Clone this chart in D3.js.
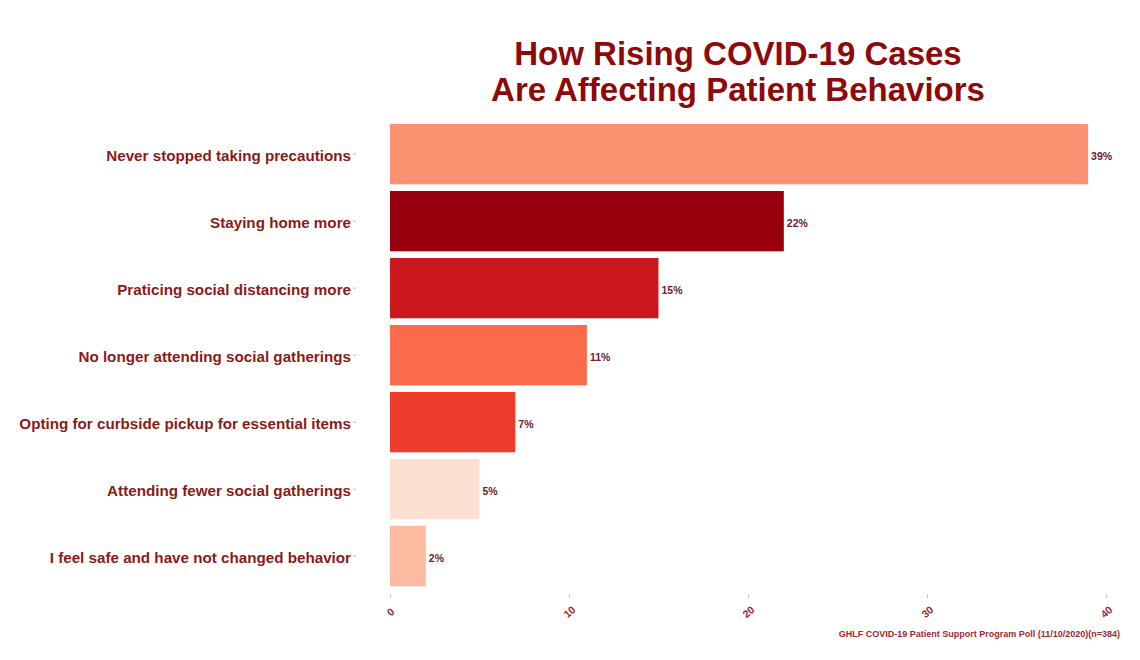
<!DOCTYPE html>
<html>
<head>
<meta charset="utf-8">
<script src="https://cdn.jsdelivr.net/npm/d3@7"></script>
<style>
  body { margin: 0; background: #fff; }
  svg { display: block; font-family: "Liberation Sans", Arial, sans-serif; }
</style>
</head>
<body>
<svg id="chart" width="1140" height="660"></svg>
<script>
const categories = [
  "Never stopped taking precautions",
  "Staying home more",
  "Praticing social distancing more",
  "No longer attending social gatherings",
  "Opting for curbside pickup for essential items",
  "Attending fewer social gatherings",
  "I feel safe and have not changed behavior"
];
const values = [39, 22, 15, 11, 7, 5, 2];
const barColors = ["#FC9272", "#99000D", "#CB181D", "#FB6A4A", "#EF3B2C", "#FEE0D2", "#FCBBA1"];
const xTicks = [0, 10, 20, 30, 40];
const titleLines = ["How Rising COVID-19 Cases", "Are Affecting Patient Behaviors"];
const caption = "GHLF COVID-19 Patient Support Program Poll (11/10/2020)(n=384)";

const svg = d3.select("#chart");
const textColor = "#8B1A1A";

const x = d3.scaleLinear().domain([0, 40]).range([390, 1106]);
const y = d3.scaleBand().domain(categories).range([120.65, 589.65]).paddingInner(0.1).paddingOuter(0.05);

// Bars
svg.append("g").selectAll("rect")
  .data(categories)
  .join("rect")
  .attr("x", x(0))
  .attr("y", d => y(d))
  .attr("width", (d, i) => x(values[i]) - x(0))
  .attr("height", y.bandwidth())
  .attr("fill", (d, i) => barColors[i]);

// Value labels
svg.append("g").selectAll("text")
  .data(categories)
  .join("text")
  .attr("x", (d, i) => x(values[i]) + 3)
  .attr("y", d => y(d) + y.bandwidth() / 2 + 2)
  .attr("dy", "0.35em")
  .attr("font-size", 10.5)
  .attr("font-weight", "bold")
  .attr("fill", "#6e2030")
  .text((d, i) => values[i] + "%");

// Y axis
const yAxis = svg.append("g")
  .attr("transform", "translate(356,0)")
  .call(d3.axisLeft(y).tickSize(3).tickPadding(2));
yAxis.select(".domain").remove();
yAxis.selectAll(".tick line").attr("stroke", "#bbb");
yAxis.selectAll(".tick text")
  .attr("font-size", 15.2)
  .attr("font-weight", "bold")
  .attr("fill", textColor)
  .attr("dy", "0.47em")
  .attr("font-family", "Liberation Sans, Arial, sans-serif");

// X axis
const xAxis = svg.append("g")
  .attr("transform", "translate(0,595)")
  .call(d3.axisBottom(x).tickValues(xTicks).tickSize(3).tickPadding(6));
xAxis.select(".domain").remove();
xAxis.selectAll(".tick line").attr("stroke", "#bbb");
xAxis.selectAll(".tick text")
  .attr("font-size", 10.5)
  .attr("font-weight", "bold")
  .attr("fill", "#9b2a35")
  .attr("font-family", "Liberation Sans, Arial, sans-serif")
  .attr("text-anchor", "middle")
  .attr("y", 0)
  .attr("dy", "0.35em")
  .attr("transform", "translate(0,17) rotate(-40)");

// Title
svg.append("g").selectAll("text")
  .data(titleLines)
  .join("text")
  .attr("x", 738)
  .attr("y", (d, i) => 65 + i * 36)
  .attr("text-anchor", "middle")
  .attr("font-size", 33)
  .attr("font-weight", "bold")
  .attr("fill", "#8E0A0A")
  .text(d => d);

// Caption
svg.append("text")
  .attr("x", 1120)
  .attr("y", 637)
  .attr("text-anchor", "end")
  .attr("font-size", 9.0)
  .attr("font-weight", "bold")
  .attr("fill", "#9b2a35")
  .text(caption);
</script>
</body>
</html>
